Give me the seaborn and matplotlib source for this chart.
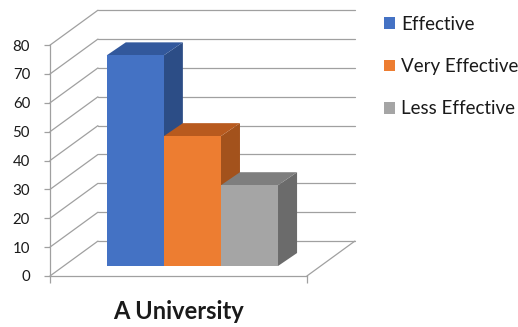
import pandas as pd
import seaborn as sns
import matplotlib.pyplot as plt
from matplotlib.patches import Polygon

# data
schools = ["A University"]
ratings = ["Effective", "Very Effective", "Less Effective"]
values = [73, 45, 28]
y_ticks = list(range(0, 90, 10))

front_colors = ["#4472c4", "#ed7d31", "#a5a5a5"]
side_colors = ["#2c4d86", "#a3521c", "#6b6b6b"]
top_colors = ["#32589c", "#b85a1e", "#7e7e7e"]
grid = "#a0a0a0"

df = pd.DataFrame({"school": schools * len(ratings), "rating": ratings, "value": values})

sns.set_theme(style="white")
plt.rcParams["font.family"] = ["Lato", "DejaVu Sans"]

fig = plt.figure(figsize=(5.18, 3.27), dpi=100)
ax = fig.add_axes([0.0965, 0.156, 0.496, 0.706])

sns.barplot(data=df, x="school", y="value", hue="rating", palette=front_colors,
            saturation=1, errorbar=None, width=0.8, linewidth=0, ax=ax)

xmin, xmax = -0.6, 0.6
ax.set_xlim(xmin, xmax)
ax.set_ylim(0, 80)

# fake 3D: back wall / floor offset, bar plane offset, bar depth (data units)
wall_dx, wall_dy = 0.224, 12.1
bar_dx, bar_dy = 0.065, 3.46
ddx, ddy = 0.089, 4.5

for v in y_ticks:
    ax.plot([xmin + wall_dx, xmax + wall_dx], [v + wall_dy] * 2, color=grid, lw=0.9,
            clip_on=False, zorder=0)
    ax.plot([xmin, xmin + wall_dx], [v, v + wall_dy], color=grid, lw=0.9,
            clip_on=False, zorder=0)
ax.plot([xmax, xmax + wall_dx], [0, wall_dy], color=grid, lw=0.9, clip_on=False, zorder=0)

for i, bars in enumerate(ax.containers):
    for bar in bars:
        bar.set_x(bar.get_x() + bar_dx)
        bar.set_y(bar.get_y() + bar_dy)
        bar.set_zorder(10)
        bar.set_clip_on(False)
        x0, x1 = bar.get_x(), bar.get_x() + bar.get_width()
        y0, y1 = bar.get_y(), bar.get_y() + bar.get_height()
        side = Polygon([(x1, y0), (x1 + ddx, y0 + ddy), (x1 + ddx, y1 + ddy), (x1, y1)],
                       facecolor=side_colors[i], lw=0, zorder=2 + i, clip_on=False)
        top = Polygon([(x0, y1), (x1, y1), (x1 + ddx, y1 + ddy), (x0 + ddx, y1 + ddy)],
                      facecolor=top_colors[i], lw=0, zorder=2 + i, clip_on=False)
        ax.add_patch(side)
        ax.add_patch(top)

sns.despine(ax=ax)
for s in ["left", "bottom"]:
    ax.spines[s].set_color(grid)
    ax.spines[s].set_linewidth(0.9)
    ax.spines[s].set_zorder(0)

ax.set_yticks(y_ticks)
ax.set_xticks([xmin, xmax])
ax.set_xticklabels(["", ""])
ax.tick_params(axis="y", left=True, length=4.3, width=0.9, color=grid, labelsize=10.8,
               labelcolor="#1a1a1a", pad=10)
ax.tick_params(axis="x", bottom=True, length=5, width=0.9, color=grid)
ax.set_ylabel("")
ax.set_xlabel("A University", fontsize=17, fontweight="bold", color="#1a1a1a", labelpad=9)

sns.move_legend(ax, "upper left", bbox_to_anchor=(384 / 518, 1 - 16 / 327),
                bbox_transform=fig.transFigure, frameon=False, title=None,
                handlelength=0.6, handleheight=0.6, handletextpad=0.33,
                labelspacing=1.34, fontsize=13.5, borderpad=0, borderaxespad=0,
                labelcolor="#1a1a1a")

fig.savefig("out.png", dpi=100, facecolor="white")
